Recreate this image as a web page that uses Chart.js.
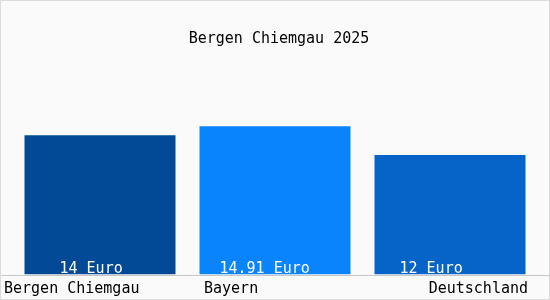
<!DOCTYPE html>
<html>
<head>
<meta charset="utf-8">
<script src="https://cdn.jsdelivr.net/npm/chart.js@4/dist/chart.umd.min.js"></script>
<style>
html,body{margin:0;padding:0;background:#fafafa;}
#wrap{width:550px;height:300px;position:relative;}
</style>
</head>
<body>
<div id="wrap"><canvas id="c" width="550" height="300"></canvas></div>
<script>
const titleText = "Bergen Chiemgau 2025";
const categories = ["Bergen Chiemgau", "Bayern", "Deutschland"];
const values = [14, 14.91, 12];
const valueLabels = ["14 Euro", "14.91 Euro", "12 Euro"];
const barColors = ["#034a96", "#0a84fc", "#0664c8"];

const FONT = '15px "DejaVu Sans Mono", "Liberation Mono", monospace';

const decor = {
  id: 'decor',
  beforeDraw(chart) {
    const ctx = chart.ctx;
    ctx.save();
    ctx.fillStyle = '#fafafa';
    ctx.fillRect(0, 0, chart.width, chart.height);
    ctx.restore();
  },
  afterDatasetsDraw(chart) {
    const ctx = chart.ctx;
    const meta = chart.getDatasetMeta(0);
    const xs = chart.scales.x;
    ctx.save();
    // axis line
    ctx.strokeStyle = '#c8c8c8';
    ctx.lineWidth = 1;
    ctx.beginPath();
    ctx.moveTo(0, 275.5);
    ctx.lineTo(chart.width, 275.5);
    ctx.stroke();
    // border
    ctx.strokeStyle = '#dcdcdc';
    ctx.strokeRect(0.5, 0.5, chart.width - 1, chart.height - 1);
    ctx.font = FONT;
    ctx.textBaseline = 'alphabetic';
    // title
    ctx.fillStyle = '#000';
    ctx.textAlign = 'center';
    ctx.fillText(titleText, 279, 43);
    // value labels inside bars
    const offs = [35, 20, 25];
    ctx.fillStyle = '#ffffff';
    ctx.textAlign = 'left';
    meta.data.forEach((bar, i) => {
      const left = bar.x - bar.width / 2;
      ctx.fillText(valueLabels[i], left + offs[i], 273);
    });
    // category labels
    ctx.fillStyle = '#000';
    categories.forEach((c, i) => {
      const cx = xs.getPixelForValue(i);
      const bar = meta.data[i];
      if (i === 0) { ctx.textAlign = 'left'; ctx.fillText(c, 4, 293); }
      else if (i === categories.length - 1) { ctx.textAlign = 'right'; ctx.fillText(c, bar.x + bar.width / 2 + 2.5, 293); }
      else { ctx.textAlign = 'left'; ctx.fillText(c, bar.x - bar.width / 2 + 4.5, 293); }
    });
    ctx.restore();
  }
};

new Chart(document.getElementById('c'), {
  type: 'bar',
  data: {
    labels: categories,
    datasets: [{
      data: values,
      backgroundColor: barColors,
      borderWidth: 0,
      barPercentage: 151 / 175,
      categoryPercentage: 1
    }]
  },
  options: {
    responsive: false,
    animation: false,
    events: [],
    layout: { padding: { left: 12.5, right: 12.5, top: 75.5, bottom: 25.5 } },
    plugins: { legend: { display: false }, title: { display: false }, tooltip: { enabled: false } },
    scales: {
      x: { display: false, grid: { display: false } },
      y: { display: false, min: 0, max: 20, grid: { display: false } }
    }
  },
  plugins: [decor]
});
</script>
</body>
</html>
